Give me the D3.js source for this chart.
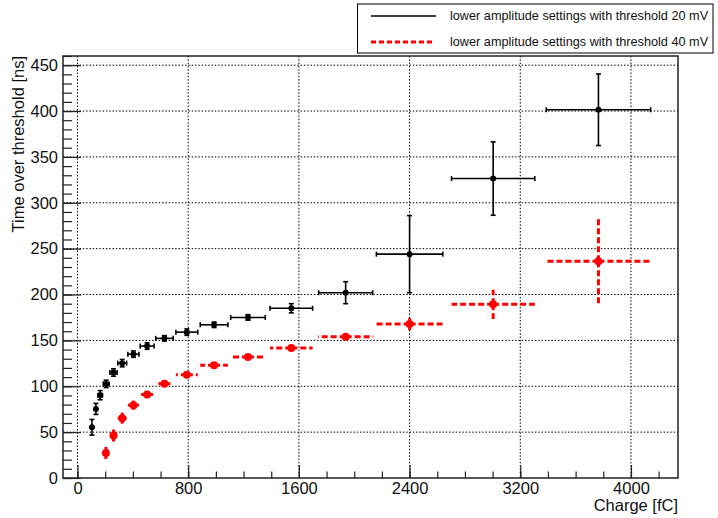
<!DOCTYPE html>
<html>
<head>
<meta charset="utf-8">
<script src="https://cdn.jsdelivr.net/npm/d3@7"></script>
<style>
  html, body { margin: 0; padding: 0; background: #fff; }
  svg { display: block; font-family: "Liberation Sans", Arial, sans-serif; }
</style>
</head>
<body>
<svg id="chart" width="718" height="518"></svg>
<script>
// Time over threshold vs. injected charge, two threshold settings
const blackCharge    = [104, 133, 164, 207, 260, 323, 404, 503, 628, 790, 987, 1232, 1545, 1938, 2400, 3004, 3765];
const blackChargeErr = [10, 13, 16, 21, 26, 32, 40, 50, 63, 79, 100, 125, 154, 195, 240, 301, 377];
const blackTot       = [55.3, 75.3, 90.3, 102.6, 115, 125.2, 135, 143.8, 152.2, 159, 167, 175, 185, 202, 244, 326.4, 401.4];
const blackTotErr    = [8.5, 6, 5, 4, 4, 4, 3.5, 3.5, 3, 3.5, 3, 3, 5, 12, 42, 40, 39];

const redCharge    = [205, 260, 323, 404, 503, 628, 790, 987, 1232, 1545, 1938, 2400, 3004, 3765];
const redChargeErr = [21, 26, 32, 40, 50, 63, 79, 100, 125, 154, 200, 245, 301, 383];
const redTot       = [27.3, 46.3, 65.2, 79.4, 91, 102.8, 112.6, 122.8, 131.8, 141.8, 154, 167.8, 189.3, 236.2];
const redTotErr    = [8.5, 7, 6, 5, 4, 3.5, 3.5, 3, 3, 3, 4, 9, 16, 46];

const xMajorTicks = [0, 800, 1600, 2400, 3200, 4000];
const yMajorTicks = [0, 50, 100, 150, 200, 250, 300, 350, 400, 450];

const legendLabels = [
  "lower amplitude settings with threshold 20 mV",
  "lower amplitude settings with threshold 40 mV"
];
const xTitle = "Charge [fC]";
const yTitle = "Time over threshold [ns]";

const svg = d3.select("#chart");
const frame = { left: 63, right: 678, top: 56, bottom: 478 };

const x = d3.scaleLinear().domain([-105, 4340]).range([frame.left, frame.right]);
const y = d3.scaleLinear().domain([0, 460]).range([frame.bottom, frame.top]);

const xMinor = d3.range(0, 4340, 200);
const yMinor = d3.range(0, 461, 10);

// dotted grid at major ticks
const grid = svg.append("g").attr("stroke", "#000").attr("stroke-width", 1)
  .attr("stroke-dasharray", "1.5,1.8");
grid.selectAll("line.gx").data(xMajorTicks).join("line")
  .attr("x1", d => x(d)).attr("x2", d => x(d))
  .attr("y1", frame.top).attr("y2", frame.bottom);
grid.selectAll("line.gy").data(yMajorTicks.filter(d => d > 0)).join("line")
  .attr("y1", d => y(d)).attr("y2", d => y(d))
  .attr("x1", frame.left).attr("x2", frame.right);

// axes with inward ticks
function styleAxis(g) {
  g.select(".domain").remove();
  g.selectAll(".tick line").attr("stroke", "#222").attr("stroke-width", 1.2);
}
svg.append("g").attr("transform", `translate(0,${frame.bottom})`)
  .call(d3.axisBottom(x).tickValues(xMinor).tickSize(-6.5).tickFormat(""))
  .call(styleAxis);
svg.append("g").attr("transform", `translate(0,${frame.bottom})`)
  .call(d3.axisBottom(x).tickValues(xMajorTicks).tickSize(-13).tickPadding(4).tickFormat(d3.format("d")))
  .call(styleAxis)
  .call(g => g.selectAll("text").attr("fill", "#111").attr("font-size", 16.5)
    .attr("font-family", "Liberation Sans, Arial, sans-serif"));

svg.append("g").attr("transform", `translate(${frame.left},0)`)
  .call(d3.axisLeft(y).tickValues(yMinor).tickSize(-9).tickFormat(""))
  .call(styleAxis);
svg.append("g").attr("transform", `translate(${frame.left},0)`)
  .call(d3.axisLeft(y).tickValues(yMajorTicks).tickSize(-18).tickPadding(5).tickFormat(d3.format("d")))
  .call(styleAxis)
  .call(g => g.selectAll("text").attr("fill", "#111").attr("font-size", 16.5)
    .attr("font-family", "Liberation Sans, Arial, sans-serif"));

// frame
svg.append("rect")
  .attr("x", frame.left).attr("y", frame.top)
  .attr("width", frame.right - frame.left).attr("height", frame.bottom - frame.top)
  .attr("fill", "none").attr("stroke", "#222").attr("stroke-width", 1.5);

// axis titles
svg.append("text").text(xTitle)
  .attr("x", frame.right).attr("y", 511)
  .attr("text-anchor", "end").attr("font-size", 16.5).attr("fill", "#111");
svg.append("text").text(yTitle)
  .attr("transform", `translate(23.5,${frame.top}) rotate(-90)`)
  .attr("text-anchor", "end").attr("font-size", 16.5).attr("fill", "#111");

// black series: solid error bars with end caps
const blackPts = blackCharge.map((c, i) => ({ c, ce: blackChargeErr[i], t: blackTot[i], te: blackTotErr[i] }));
const gb = svg.append("g").attr("stroke", "#000").attr("stroke-width", 1.6);
const cap = 2.5;
blackPts.forEach(p => {
  const cx = x(p.c), cy = y(p.t);
  const x0 = x(p.c - p.ce), x1 = x(p.c + p.ce);
  const y0 = y(p.t - p.te), y1 = y(p.t + p.te);
  gb.append("line").attr("x1", x0).attr("x2", x1).attr("y1", cy).attr("y2", cy);
  gb.append("line").attr("x1", cx).attr("x2", cx).attr("y1", y0).attr("y2", y1);
  if (x1 - x0 > 4) {
    gb.append("line").attr("x1", x0).attr("x2", x0).attr("y1", cy - cap).attr("y2", cy + cap);
    gb.append("line").attr("x1", x1).attr("x2", x1).attr("y1", cy - cap).attr("y2", cy + cap);
  }
  gb.append("line").attr("x1", cx - cap).attr("x2", cx + cap).attr("y1", y0).attr("y2", y0);
  gb.append("line").attr("x1", cx - cap).attr("x2", cx + cap).attr("y1", y1).attr("y2", y1);
});
svg.append("g").selectAll("circle").data(blackPts).join("circle")
  .attr("cx", d => x(d.c)).attr("cy", d => y(d.t)).attr("r", 3).attr("fill", "#000");

// red series: thick dashed error bars drawn outward from the point
const redPts = redCharge.map((c, i) => ({ c, ce: redChargeErr[i], t: redTot[i], te: redTotErr[i] }));
const gr = svg.append("g").attr("stroke", "#ff0000").attr("stroke-width", 3)
  .attr("stroke-dasharray", "6,3").attr("fill", "none");
redPts.forEach(p => {
  const cx = x(p.c), cy = y(p.t);
  [[x(p.c - p.ce), cy], [x(p.c + p.ce), cy], [cx, y(p.t - p.te)], [cx, y(p.t + p.te)]]
    .forEach(([ex, ey]) => gr.append("line").attr("x1", cx).attr("y1", cy).attr("x2", ex).attr("y2", ey));
});
svg.append("g").selectAll("circle").data(redPts).join("circle")
  .attr("cx", d => x(d.c)).attr("cy", d => y(d.t)).attr("r", 4).attr("fill", "#ff0000");

// legend
const lg = svg.append("g");
lg.append("rect").attr("x", 357.5).attr("y", 4).attr("width", 355.5).attr("height", 49)
  .attr("fill", "#fff").attr("stroke", "#000").attr("stroke-width", 1);
lg.append("line").attr("x1", 371).attr("x2", 436).attr("y1", 16).attr("y2", 16)
  .attr("stroke", "#000").attr("stroke-width", 1.5);
lg.append("line").attr("x1", 371).attr("x2", 434).attr("y1", 42).attr("y2", 42)
  .attr("stroke", "#ff0000").attr("stroke-width", 2.8).attr("stroke-dasharray", "5,3");
lg.selectAll("text").data(legendLabels).join("text")
  .attr("x", 450).attr("y", (d, i) => 16 + i * 26).attr("dy", "0.35em")
  .attr("font-size", 12.7).attr("fill", "#111").text(d => d);
</script>
</body>
</html>
